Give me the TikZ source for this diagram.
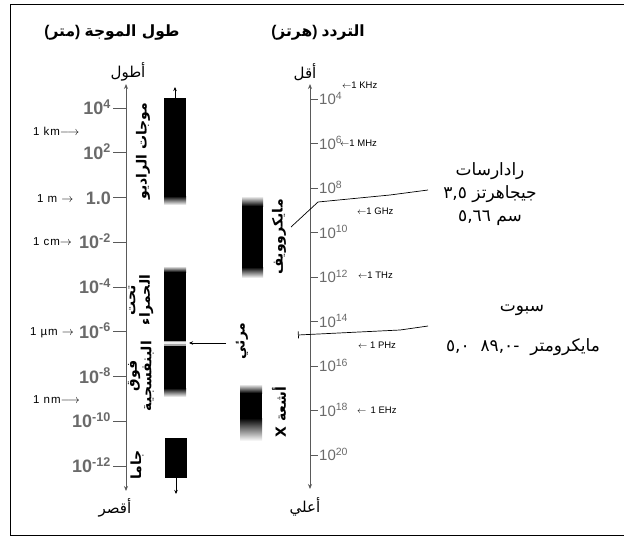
\documentclass[tikz,border=0pt]{standalone}
\usepackage{fontspec}
\setmainfont{Liberation Sans}
\newfontfamily\arfont[Script=Arabic]{DejaVu Sans}
\newfontfamily\widesans[LetterSpace=8]{Liberation Sans}
\TeXXeTstate=1
\usetikzlibrary{arrows.meta}
\definecolor{axisgray}{HTML}{5A5A5A}
\definecolor{numgray}{HTML}{6A6A6A}
% right-to-left Arabic run
\newcommand\arR[1]{{\arfont\beginR #1\endR}}
\begin{document}
\begin{tikzpicture}[x=1pt,y=-1pt,
  axisline/.style={draw=axisgray,line width=1pt,{Stealth[length=5pt,width=4pt]}-{Stealth[length=5pt,width=4pt]}},
  tickln/.style={draw=axisgray,line width=0.9pt},
  lpow/.style={text=numgray,font=\fontsize{18}{18}\selectfont\bfseries,inner sep=0pt,anchor=base east},
  rpow/.style={text=numgray,font=\fontsize{15}{15}\selectfont,inner sep=0pt,anchor=base west},
  unitlbl/.style={font=\widesans\fontsize{11.5}{12}\selectfont,inner sep=0pt,anchor=west},
  funitlbl/.style={font=\fontsize{9.5}{10}\selectfont,inner sep=0pt,anchor=west},
  title/.style={font=\fontsize{15.5}{18}\selectfont\bfseries,inner sep=0pt},
  endlbl/.style={font=\arfont\fontsize{15}{17}\selectfont,inner sep=0pt},
  vlab/.style={font=\arfont\bfseries\fontsize{14}{14.5}\selectfont,inner sep=0pt,rotate=90,align=center},
  satlbl/.style={font=\arfont\fontsize{17}{23}\selectfont,inner sep=0pt,align=center},
  barline/.style={draw=black,line width=0.8pt,-{Stealth[length=4pt,width=3.5pt]}},
  lead/.style={draw=black,line width=0.7pt}]
\useasboundingbox (0,0) rectangle (624,538);
% frame
\draw[line width=1pt] (624,4) -- (10,4) -- (10,535) -- (624,535);

% headings
\node[title] (twl) at (112,33) {(\arR{متر}) \arR{طول الموجة}};
\node[title] (tfr) at (318,33) {(\arR{هرتز}) \arR{التردد}};

% wavelength axis
\node[endlbl] (longer) at (128,72) {\arR{أطول}};
\node[endlbl] (shorter) at (115,508) {\arR{أقصر}};
\coordinate (la-top) at (126,84);
\coordinate (la-bot) at (126,491);
\draw[axisline] (la-bot) -- (la-top);
\foreach \lab [count=\i from 0, evaluate=\i as \yy using 108+44.75*\i] in
  {10\textsuperscript{4},10\textsuperscript{2},1.0,10\textsuperscript{-2},10\textsuperscript{-4},10\textsuperscript{-6},10\textsuperscript{-8},10\textsuperscript{-10},10\textsuperscript{-12}}{
  \draw[tickln] (113,\yy) -- (126,\yy);
  \node[lpow] (lw\i) at (111,\yy+6.5) {\lab};
}
\node[unitlbl] (km) at (33,131) {1 km$\longrightarrow$};
\node[unitlbl] (m) at (37,199) {1 m $\rightarrow$};
\node[unitlbl] (cm) at (33,242) {1 cm$\rightarrow$};
\node[unitlbl] (um) at (30,333) {1 µm $\rightarrow$};
\node[unitlbl] (nm) at (33,400) {1 nm$\longrightarrow$};

% frequency axis
\node[endlbl] (less) at (305,72) {\arR{أقل}};
\node[endlbl] (higher) at (305,507) {\arR{أعلي}};
\coordinate (ra-top) at (310,84);
\coordinate (ra-bot) at (310,489);
\draw[axisline] (ra-bot) -- (ra-top);
\foreach \e [count=\i from 0, evaluate=\i as \yy using 99+44.5*\i] in {4,6,8,10,12,14,16,18,20}{
  \draw[tickln] (310,\yy) -- (318,\yy);
  \node[rpow] (fr\i) at (319,\yy+5.5) {10\textsuperscript{\e}};
}
\node[funitlbl] (khz) at (342,85) {$\leftarrow$1 KHz};
\node[funitlbl] (mhz) at (340,143) {$\leftarrow$1 MHz};
\node[funitlbl] (ghz) at (357,211) {$\leftarrow$1 GHz};
\node[funitlbl] (thz) at (358,275) {$\leftarrow$1 THz};
\node[funitlbl] (phz) at (358,345) {$\leftarrow$ 1 PHz};
\node[funitlbl] (ehz) at (357,410) {$\leftarrow$ \,1 EHz};

% radio band
\fill[black] (164,98) rectangle (186,196);
\shade[top color=black,bottom color=white] (164,196) rectangle (186,205);
\coordinate (radio-top) at (175,98);
\coordinate (radio-up) at (175,87);
\draw[barline] (radio-top) -- (radio-up);
\node[vlab] (radio) at (143,151) {\arR{موجات الراديو}};

% infrared, visible, ultraviolet band
\shade[top color=white,bottom color=black] (164,266) rectangle (186,272);
\fill[black] (164,272) rectangle (186,388);
\shade[top color=black,bottom color=white] (164,388) rectangle (186,397);
\fill[gray!70] (164,340.5) rectangle (186,345.5);
\fill[white!85!gray] (164,342) rectangle (186,344);
\node[vlab] (ir) at (141,300) {\arR{تحت}\\\arR{الحمراء}};
\node[vlab] (uv) at (141,376) {\arR{فوق}\\\arR{البنفسجية}};
\node[vlab] (vis) at (242,341) {\arR{مرئي}};
\coordinate (vis-start) at (226,343);
\coordinate (vis-band) at (189,343);
\draw[barline] (vis-start) -- (vis-band);

% gamma band
\fill[black] (165,438) rectangle (187,478);
\coordinate (gamma-bot) at (176,478);
\coordinate (gamma-down) at (176,494);
\draw[barline] (gamma-bot) -- (gamma-down);
\node[vlab] (gamma) at (137,465) {\arR{جاما}};

% microwave band
\shade[top color=white,bottom color=black] (242,196) rectangle (263,206);
\fill[black] (242,206) rectangle (263,267);
\shade[top color=black,bottom color=white] (242,267) rectangle (263,278);
\node[vlab] (micro) at (279,237) {\arR{مايكروويف}};

% X-ray band
\shade[top color=white,bottom color=black] (240,384) rectangle (262,393);
\fill[black] (240,393) rectangle (262,418);
\shade[top color=black,bottom color=white] (240,418) rectangle (262,441);
\node[vlab] (xray) at (279,412) {X \arR{أشعة}};

% RADARSAT
\node[satlbl] (radarsat) at (490,194) {\arR{رادارسات}\\{\arfont ٣,٥} \arR{جيجاهرتز}\\{\arfont ٥,٦٦} \arR{سم}};
\coordinate (rs-a) at (291,227);
\coordinate (rs-b) at (318,202);
\coordinate (rs-c) at (390,195);
\coordinate (rs-d) at (428,190);
\draw[lead] (rs-a) -- (rs-b) -- (rs-c) -- (rs-d);

% SPOT
\node[satlbl] (spot) at (522,310) {\arR{سبوت}};
\node[satlbl] (spotband) at (523,347) {{\arfont ٥,٠}\ \ -{\arfont ٨٩,٠}\ \ \arR{مايكرومتر}};
\coordinate (sp-a) at (298,335);
\coordinate (sp-b) at (400,330);
\coordinate (sp-c) at (428,326);
\draw[lead,{Bar[width=7pt]}-] (sp-a) -- (sp-b) -- (sp-c);
\end{tikzpicture}
\end{document}
